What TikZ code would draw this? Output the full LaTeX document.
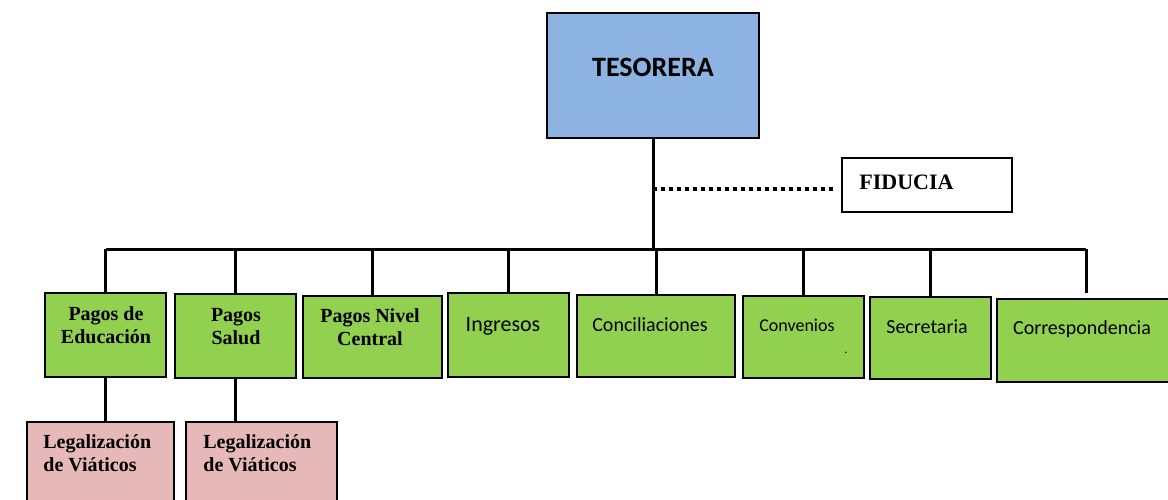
\documentclass[tikz,border=0pt]{standalone}
\usepackage{fontspec}
\setmainfont{Liberation Serif}
\newfontfamily\calib{Carlito}
\usepackage{tikz}
\definecolor{jefeblue}{RGB}{141,179,226}
\definecolor{areagreen}{RGB}{146,208,80}
\definecolor{subpink}{RGB}{230,185,184}
\newcommand{\tr}{\fontsize{10}{11.5}\selectfont\bfseries}
\newcommand{\cb}[1]{\calib\fontsize{#1}{12}\selectfont}

\begin{document}
\begin{tikzpicture}[x=0.5pt,y=-0.5pt,
    box/.style={draw,line width=1.2pt,inner sep=0pt},
    txt/.style={inner sep=0pt,align=center},
    serif/.style={txt,font=\tr},
    link/.style={line width=1.5pt},
    dotlink/.style={line width=2pt,dash pattern=on 2pt off 2pt}]
     \clip (0,0) rectangle (1168,499);
     % boxes
     \node[box,fill=jefeblue, minimum width=106pt, minimum height=62.5pt] (tes) at ( 653.0, 75.5) {};
     \node[box,fill=white,    minimum width=85pt,  minimum height=27pt]   (fid) at ( 927.0,185.0) {};
     \node[box,fill=areagreen,minimum width=60.5pt,minimum height=42pt]   (edu) at ( 105.5,335.0) {};
     \node[box,fill=areagreen,minimum width=60.5pt,minimum height=42pt]   (sal) at ( 235.5,336.0) {};
     \node[box,fill=areagreen,minimum width=69.5pt,minimum height=41pt]   (niv) at ( 372.5,337.0) {};
     \node[box,fill=areagreen,minimum width=60.5pt,minimum height=42pt]   (ing) at ( 508.5,335.0) {};
     \node[box,fill=areagreen,minimum width=79pt,  minimum height=41pt]   (con) at ( 656.0,336.0) {};
     \node[box,fill=areagreen,minimum width=60.5pt,minimum height=41pt]   (cvn) at ( 803.5,337.0) {};
     \node[box,fill=areagreen,minimum width=60.5pt,minimum height=41pt]   (sec) at ( 930.5,338.0) {};
     \node[box,fill=areagreen,minimum width=91.5pt,minimum height=41.5pt] (cor) at (1088.5,340.5) {};
     \node[box,fill=subpink,  minimum width=73.5pt,minimum height=49pt]   (leg1) at ( 100.5,471.0) {};
     \node[box,fill=subpink,  minimum width=75.5pt,minimum height=49pt]   (leg2) at ( 261.5,471.0) {};
     % texts
     \node[txt] (tes-t) at ( 653,67) {\cb{14}\bfseries TESORERA};
     \node[txt,anchor=west] (fid-t) at ( 859,182) {\fontsize{11}{13}\selectfont\bfseries FIDUCIA};
     \node[serif] (edu-t) at ( 106,325) {Pagos de\\ Educación};
     \node[serif] (sal-t) at ( 236,327) {Pagos\\ Salud};
     \node[serif] (niv-t) at ( 370,327) {Pagos Nivel\\ Central};
     \node[txt] (ing-t) at ( 503,326) {\cb{11}Ingresos};
     \node[txt] (con-t) at ( 650,325) {\cb{10}Conciliaciones};
     \node[txt] (cvn-t) at ( 797,325) {\cb{9}Convenios};
     \node[txt] (cvn-d) at ( 846,353) {\cb{6}.};
     \node[txt] (sec-t) at ( 927,327) {\cb{10}Secretaria};
     \node[txt] (cor-t) at (1082,329) {\cb{10}Correspondencia};
     \node[serif,anchor=west,align=left] (leg1-t) at ( 43,453) {Legalización\\ de Viáticos};
     \node[serif,anchor=west,align=left] (leg2-t) at (203,453) {Legalización\\ de Viáticos};
     % lines
     \coordinate (bus) at (656,249);
     \draw[link] (tes.south) -- (tes.south |- bus);
     \draw[link] (edu.north |- bus) -- (1086,249) coordinate (busend);
     \foreach \n in {edu,sal,niv,ing,con,cvn,sec}
       \draw[link] (\n.north |- bus) -- (\n.north);
     \draw[link] (busend) -- ++(0,44) coordinate (corend);
     \draw[link] (edu.south) -- (edu.south |- leg1.north);
     \draw[link] (sal.south) -- (sal.south |- leg2.north);
     \draw[dotlink] (tes.south |- 0,189) -- ([xshift=-3.5pt,yshift=-2pt]fid.west);
    \end{tikzpicture}
\end{document}
